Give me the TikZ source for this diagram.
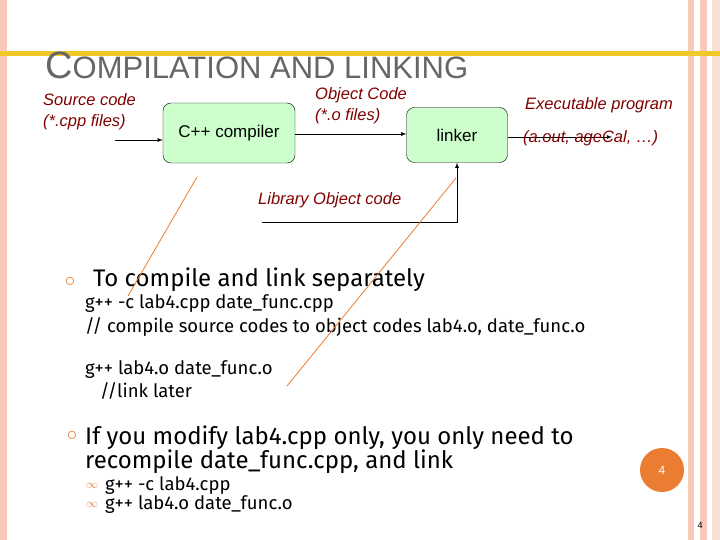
\documentclass[tikz,border=0pt]{standalone}
\usepackage{fontspec}
\setmainfont{Liberation Sans}
\newfontfamily\slidefont{Fira Sans}
\usetikzlibrary{positioning,arrows}
\definecolor{dred}{RGB}{128,0,0}
\definecolor{boxgreen}{RGB}{204,255,204}
\definecolor{orng}{RGB}{235,125,50}
\definecolor{pinkband}{RGB}{248,200,185}
\definecolor{gold}{RGB}{240,200,40}
\begin{document}
\begin{tikzpicture}[x=1pt,y=-1pt]
 \tikzstyle{stage}=[draw,fill=boxgreen,rounded corners=8pt,font=\fontsize{17}{20}\selectfont]
 \tikzstyle{lbl}=[text=dred,font=\itshape\fontsize{16.5}{19}\selectfont,anchor=west,inner sep=0]
 \tikzstyle{code}=[font=\slidefont\fontsize{18.5}{21}\selectfont,anchor=west,inner sep=0]
 \tikzstyle{big}=[font=\slidefont\fontsize{24}{28}\selectfont,anchor=west,inner sep=0]
 \tikzstyle{dot}=[text=orng,font=\fontsize{20}{20}\selectfont,inner sep=0]
\useasboundingbox (0,0) rectangle (720,540);
% slide frame
\fill[white] (0,0) rectangle (720,540);
\fill[pinkband] (0,0) rectangle (7,540);
\fill[pinkband] (688,0) rectangle (694,540);
\fill[pinkband] (700,0) rectangle (707,540);
\fill[pinkband!60] (712,0) rectangle (720,540);
\fill[gold] (0,51) rectangle (720,56);
\node[anchor=base west,inner sep=0,text=gray!80!black,font=\fontsize{38}{40}\selectfont] (title)
  at (45,79) {C\fontsize{31}{34}\selectfont OMPILATION AND LINKING};
% flow
\node[stage,minimum width=132pt,minimum height=60pt] (cc) at (229,133) {C++ compiler};
\node[stage,minimum width=101pt,minimum height=55pt] (ld) at (457,135) {linker};
\coordinate (src) at (115,140);
\coordinate (exe) at (612,137);
\coordinate (lib) at (262,222);
\draw[thick,-latex] (src) -- (src -| cc.west);
\draw[thick,-latex] (cc.east |- 0,134) -- (ld.west |- 0,134);
\draw[thick,-latex] (ld.east |- exe) -- (exe);
\draw[thick,-latex] (lib) -| (ld.south);
\node[lbl] (srclbl) at (43,100) {Source code};
\node[lbl] (srclbl2) at (43,122) {(*.cpp files)};
\node[lbl] (objlbl) at (315,95) {Object Code};
\node[lbl] (objlbl2) at (315,116) {(*.o files)};
\node[lbl] (exelbl) at (525,105) {Executable program};
\node[lbl] (exelbl2) at (523,138) {(a.out, ageCal, \dots)};
\node[lbl] (liblbl) at (258,200) {Library Object code};
% text
\node[dot] (b1) at (70,282) {$\circ$};
\node[big] (t1) at (93,280) {To compile and link separately};
\node[code] (c1) at (85,304) {g++ -c lab4.cpp date\_func.cpp};
\node[code] (c2) at (85,327) {// compile source codes to object codes lab4.o, date\_func.o};
\node[code] (c3) at (85,370) {g++ lab4.o date\_func.o};
\node[code] (c4) at (100,391) {//link later};
\node[dot] (b2) at (72,436) {$\circ$};
\node[big] (t2) at (85,438) {If you modify lab4.cpp only, you only need to};
\node[big] (t3) at (85,462) {recompile date\_func.cpp, and link};
\node[text=orng,font=\large] (s1) at (92,486) {$\infty$};
\node[code] (c5) at (105,486) {g++ -c lab4.cpp};
\node[text=orng,font=\large] (s2) at (92,505) {$\infty$};
\node[code] (c6) at (105,505) {g++ lab4.o date\_func.o};
% annotations
\draw[orng,thick] (197,177) -- (128,296);
\draw[orng,thick] (456,178) -- (287,386);
\node[circle,fill=orng,minimum size=44pt,text=white,font=\large] (pg) at (662,470) {4};
\node[font=\small,inner sep=0] (pgno) at (700,525) {4};
\end{tikzpicture}
\end{document}
